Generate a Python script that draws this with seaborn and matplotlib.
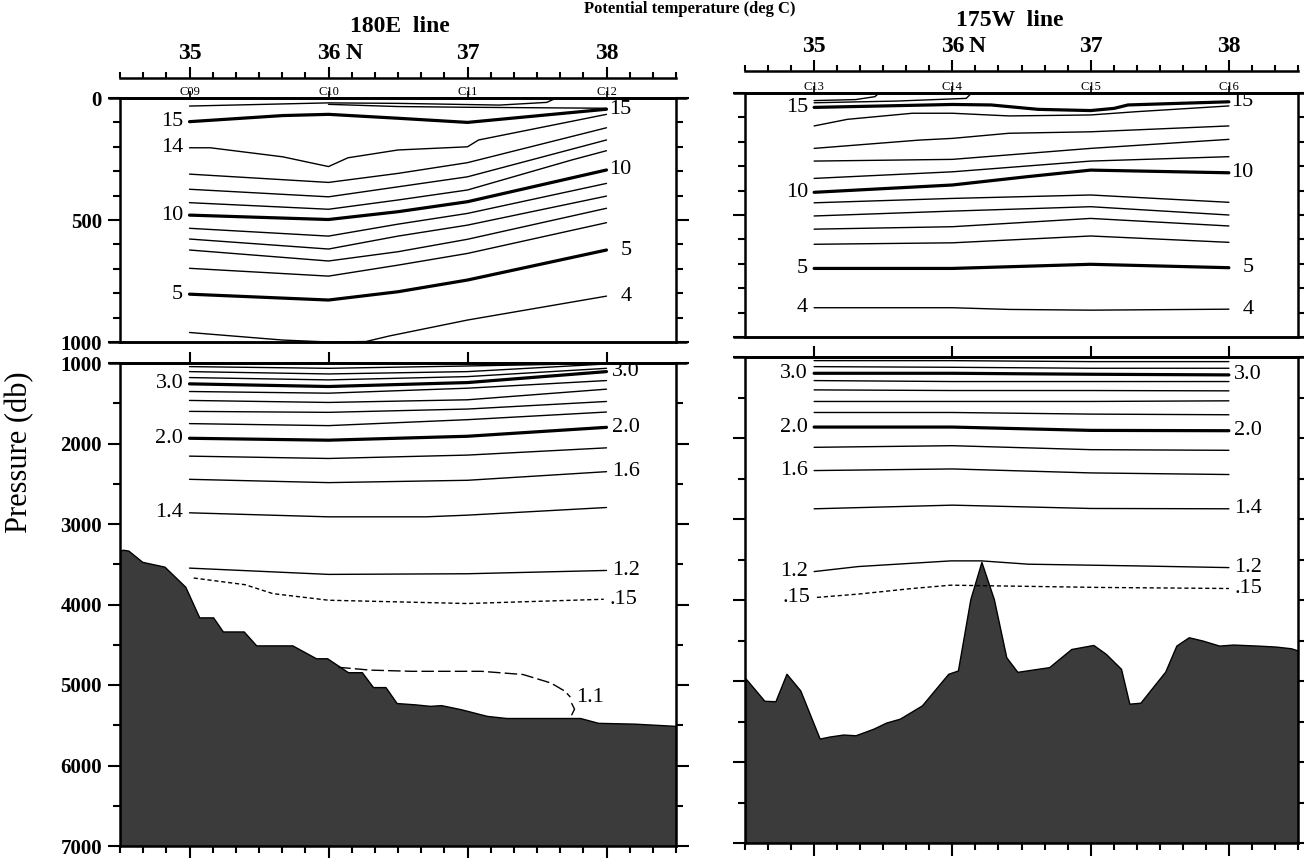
import matplotlib
matplotlib.use("Agg")
import matplotlib.pyplot as plt
import matplotlib.ticker as mticker
import pandas as pd
import seaborn as sns

W, H = 1304, 858

# stations and axis ticks
station_lats = [35.0, 36.0, 37.0, 38.0]
stations_180e = ["C09", "C10", "C11", "C12"]
stations_175w = ["C13", "C14", "C15", "C16"]
lat_ticks = [35, 36, 37, 38]
lat_ticklabels = ["35", "36", "37", "38"]
upper_pticks = [0, 500, 1000]
lower_pticks = [1000, 2000, 3000, 4000, 5000, 6000, 7000]

# isotherms: name -> (latitude, pressure db)
iso_180e_upper = {
    "16": ([35.0, 36.0, 36.5, 37.23, 37.57, 37.64], [33, 20, 22, 29, 18, 0]),
    "16b": ([36.0, 36.5, 37.0, 38.0], [26, 35, 38, 42]),
    "15": ([35.0, 35.67, 36.0, 36.5, 37.0, 38.0], [97, 72, 67, 83, 100, 46]),
    "14": ([35.0, 35.15, 35.67, 36.0, 36.14, 36.5, 37.0, 37.08, 38.0],
           [204, 204, 241, 281, 245, 213, 200, 172, 67]),
    "13": ([35.0, 36.0, 36.5, 37.0, 38.0], [312, 346, 309, 265, 122]),
    "12": ([35.0, 36.0, 36.5, 37.0, 38.0], [374, 405, 364, 323, 172]),
    "11": ([35.0, 36.0, 36.5, 37.0, 37.75, 38.0], [429, 456, 418, 377, 254, 216]),
    "10": ([35.0, 36.0, 36.5, 37.0, 38.0], [480, 498, 466, 425, 295]),
    "9": ([35.0, 36.0, 36.5, 37.0, 38.0], [534, 566, 517, 473, 350]),
    "8": ([35.0, 36.0, 36.5, 37.0, 38.0], [578, 619, 566, 521, 402]),
    "7": ([35.0, 36.0, 36.5, 37.0, 38.0], [623, 668, 630, 579, 452]),
    "6": ([35.0, 36.0, 36.5, 37.0, 38.0], [698, 730, 685, 637, 511]),
    "5": ([35.0, 36.0, 36.5, 37.0, 38.0], [804, 828, 794, 746, 623]),
    "4": ([35.0, 35.67, 36.0, 36.27, 36.44, 37.0, 38.0],
          [961, 992, 1000, 998, 975, 910, 812]),
}
iso_180e_lower = {
    "3.6": ([35.0, 36.0, 37.0, 38.0], [1045, 1066, 1037, 1005]),
    "3.4": ([35.0, 36.0, 37.0, 38.0], [1107, 1136, 1107, 1012]),
    "3.2": ([35.0, 36.0, 37.0, 38.0], [1181, 1210, 1169, 1066]),
    "3.0": ([35.0, 36.0, 37.0, 38.0], [1259, 1292, 1243, 1107]),
    "2.8": ([35.0, 36.0, 37.0, 38.0], [1354, 1375, 1313, 1218]),
    "2.6": ([35.0, 36.0, 37.0, 38.0], [1465, 1490, 1457, 1325]),
    "2.4": ([35.0, 36.0, 37.0, 38.0], [1601, 1613, 1572, 1478]),
    "2.2": ([35.0, 36.0, 37.0, 38.0], [1753, 1778, 1704, 1609]),
    "2.0": ([35.0, 36.0, 37.0, 38.0], [1935, 1959, 1910, 1799]),
    "1.8": ([35.0, 36.0, 37.0, 38.0], [2157, 2186, 2144, 2054]),
    "1.6": ([35.0, 36.0, 37.0, 38.0], [2445, 2486, 2457, 2350]),
    "1.4": ([35.0, 36.0, 36.7, 37.0, 38.0], [2861, 2911, 2911, 2890, 2795]),
    "1.2": ([35.0, 36.0, 37.0, 38.0], [3548, 3626, 3618, 3577]),
    ".15": ([35.03, 35.4, 35.6, 36.0, 37.0, 37.98], [3671, 3754, 3865, 3947, 3988, 3935]),
    "1.1": ([36.07, 36.3, 36.6, 37.1, 37.4, 37.6, 37.7, 37.74],
            [4780, 4815, 4830, 4830, 4870, 4975, 5076, 5150]),
    "1.1b": ([37.75, 37.77, 37.75], [5230, 5300, 5370]),
}
iso_175w_upper = {
    "16": ([35.0, 35.3, 35.44, 35.47], [31, 27, 15, 0]),
    "16b": ([35.0, 35.6, 36.1, 36.14], [40, 33, 22, 0]),
    "15": ([35.0, 36.0, 36.28, 36.62, 37.0, 37.17, 37.27, 38.0],
           [59, 47, 49, 67, 72, 63, 49, 36]),
    "14": ([35.0, 35.24, 35.71, 36.0, 36.41, 37.0, 37.32, 38.0],
           [135, 108, 83, 83, 94, 90, 77, 53]),
    "13": ([35.0, 35.76, 36.0, 36.41, 37.0, 38.0], [227, 193, 186, 165, 159, 135]),
    "12": ([35.0, 36.0, 37.0, 38.0], [279, 272, 227, 190]),
    "11": ([35.0, 36.0, 37.0, 38.0], [350, 323, 279, 261]),
    "10": ([35.0, 36.0, 36.54, 37.0, 38.0], [407, 377, 343, 316, 327]),
    "9": ([35.0, 36.0, 37.0, 38.0], [450, 432, 418, 448]),
    "8": ([35.0, 36.0, 37.0, 38.0], [504, 484, 466, 500]),
    "7": ([35.0, 36.0, 37.0, 38.0], [558, 548, 514, 545]),
    "6": ([35.0, 36.0, 37.0, 38.0], [620, 614, 586, 612]),
    "5": ([35.0, 36.0, 37.0, 38.0], [719, 719, 702, 716]),
    "4": ([35.0, 36.0, 36.41, 37.0, 38.0], [880, 880, 887, 890, 886]),
}
iso_175w_lower = {
    "3.4": ([35.0, 36.0, 37.0, 38.0], [1045, 1045, 1057, 1057]),
    "3.2": ([35.0, 36.0, 37.0, 38.0], [1119, 1127, 1139, 1139]),
    "3.0": ([35.0, 36.0, 37.0, 38.0], [1201, 1201, 1213, 1221]),
    "2.8": ([35.0, 36.0, 37.0, 38.0], [1291, 1303, 1303, 1303]),
    "2.6": ([35.0, 36.0, 37.0, 38.0], [1406, 1414, 1414, 1418]),
    "2.4": ([35.0, 36.0, 37.0, 38.0], [1549, 1549, 1549, 1541]),
    "2.2": ([35.0, 36.0, 37.0, 38.0], [1685, 1685, 1705, 1713]),
    "2.0": ([35.0, 36.0, 37.0, 38.0], [1865, 1865, 1906, 1910]),
    "1.8": ([35.0, 36.0, 37.0, 38.0], [2115, 2095, 2144, 2152]),
    "1.6": ([35.0, 36.0, 37.0, 38.0], [2402, 2382, 2431, 2451]),
    "1.4": ([35.0, 36.0, 37.0, 38.0], [2874, 2829, 2870, 2874]),
    "1.2": ([35.0, 35.32, 35.99, 36.21, 36.55, 37.33, 38.0],
            [3649, 3587, 3517, 3517, 3558, 3579, 3600]),
    ".15": ([35.02, 35.32, 35.71, 35.99, 36.29, 37.07, 38.0],
            [3968, 3927, 3858, 3817, 3825, 3845, 3858]),
}

# labelled isotherms (left end, right end)
labels_180e_upper = (["15", "14", "10", "5"], ["15", "10", "5", "4"])
labels_180e_lower = (["3.0", "2.0", "1.4"], ["3.0", "2.0", "1.6", "1.2", ".15", "1.1"])
labels_175w_upper = (["15", "10", "5", "4"], ["15", "10", "5", "4"])
labels_175w_lower = (["3.0", "2.0", "1.6", "1.2", ".15"], ["3.0", "2.0", "1.4", "1.2", ".15"])

# bottom topography
bottom_180e_lat = [34.50, 34.52, 34.56, 34.66, 34.82, 34.97, 35.07, 35.17, 35.24, 35.39,
                   35.48, 35.74, 35.91, 35.99, 36.14, 36.24, 36.32, 36.41, 36.49, 36.62,
                   36.73, 36.81, 36.95, 37.14, 37.28, 37.81, 37.94, 38.20, 38.50]
bottom_180e_p = [3330, 3320, 3330, 3470, 3530, 3780, 4160, 4160, 4335, 4335,
                 4508, 4508, 4668, 4668, 4841, 4841, 5026, 5026, 5224, 5240,
                 5259, 5250, 5300, 5384, 5410, 5410, 5470, 5480, 5508]
bottom_175w_lat = [34.50, 34.64, 34.72, 34.80, 34.90, 35.04, 35.11, 35.21, 35.30, 35.43,
                   35.52, 35.62, 35.78, 35.97, 36.04, 36.13, 36.21, 36.30, 36.39, 36.47,
                   36.58, 36.70, 36.86, 37.02, 37.11, 37.22, 37.28, 37.36, 37.54, 37.62,
                   37.71, 37.81, 37.93, 38.03, 38.21, 38.34, 38.45, 38.50]
bottom_175w_p = [4960, 5244, 5250, 4911, 5117, 5711, 5686, 5661, 5670, 5588,
                 5514, 5465, 5301, 4911, 4870, 3989, 3530, 3989, 4707, 4887,
                 4859, 4829, 4605, 4555, 4665, 4850, 5280, 5268, 4883, 4563,
                 4460, 4501, 4563, 4550, 4563, 4575, 4596, 4624]

heavy = {"15", "10", "5", "3.0", "2.0"}
dashed = {".15": (0, (3, 2)), "1.1": (0, (9, 3))}

sns.set_theme(style="ticks", rc={"axes.edgecolor": "black", "xtick.color": "black",
                                 "ytick.color": "black", "text.color": "black"})
plt.rcParams["font.family"] = ["Liberation Serif", "DejaVu Serif"]

fig = plt.figure(figsize=(W / 100, H / 100), dpi=100)


def px_box(x0, y0, x1, y1):
    return [x0 / W, 1 - y1 / H, (x1 - x0) / W, (y1 - y0) / H]


def draw_lines(ax, lines):
    for name, (lats, ps) in lines.items():
        df = pd.DataFrame({"lat": lats, "p": ps})
        sns.lineplot(data=df, x="lat", y="p", ax=ax, color="black",
                     lw=2.3 if name in heavy else 1.0,
                     linestyle=dashed.get(name, "-"),
                     estimator=None, sort=False, legend=False, zorder=3)


def label_lines(ax, lines, labels, upper):
    left, right = labels
    for name in left:
        lats, ps = lines[name]
        ax.text(lats[0] - 0.045, ps[0], name, ha="right", va="center", fontsize=16)
    for name in right:
        lats, ps = lines[name]
        if upper:
            ax.text(38.18, ps[-1], name, ha="right", va="center", fontsize=16)
        else:
            ax.text(lats[-1] + 0.04, ps[-1], name, ha="left", va="center", fontsize=16)


def style_axes(ax, upper, show_labels, stations):
    ax.set_xlim(34.5, 38.5)
    ax.set_xlabel("")
    ax.set_ylabel("")
    if upper:
        ax.set_ylim(1000, 0)
        ax.set_yticks(upper_pticks)
        ax.yaxis.set_minor_locator(mticker.MultipleLocator(100))
    else:
        ax.set_ylim(7000, 1000)
        ax.set_yticks(lower_pticks)
        ax.yaxis.set_minor_locator(mticker.MultipleLocator(500))
    ax.tick_params(axis="y", which="both", direction="out", left=True, right=True,
                   labelleft=show_labels, labelright=False, width=1.5, labelsize=15, pad=4)
    ax.tick_params(axis="y", which="major", length=9)
    ax.tick_params(axis="y", which="minor", length=5)
    for t in ax.get_yticklabels():
        t.set_fontweight("bold")
    ax.set_xticks(lat_ticks)
    ax.xaxis.set_minor_locator(mticker.MultipleLocator(1 / 6))
    if upper:
        ax.tick_params(axis="x", which="both", bottom=False, top=False, labelbottom=False)
    else:
        ax.tick_params(axis="x", which="both", direction="out", bottom=True, top=False,
                       labelbottom=False, width=1.5)
        ax.tick_params(axis="x", which="major", length=9)
        ax.tick_params(axis="x", which="minor", length=5)
    for s in ax.spines.values():
        s.set_linewidth(1.8)
        s.set_visible(True)
    sec = ax.secondary_xaxis("top")
    sec.set_xticks(station_lats)
    sec.spines["top"].set_linewidth(1.8)
    if upper:
        sec.set_xticklabels(stations, fontsize=9)
        sec.tick_params(direction="out", length=5, width=1.2, pad=-5)
    else:
        sec.set_xticklabels([])
        sec.tick_params(direction="out", length=8, width=1.5)
    ends = [1, 0] if upper else [1]
    for yv in ends:
        ax.plot([-0.022, 1.02], [yv, yv], transform=ax.transAxes, clip_on=False,
                color="black", lw=1.8, solid_capstyle="butt")


def ruler(box):
    axr = fig.add_axes(box)
    axr.set_xlim(34.5, 38.5)
    axr.set_ylim(0, 1)
    axr.patch.set_visible(False)
    for s in ["left", "right", "bottom"]:
        axr.spines[s].set_visible(False)
    axr.spines["top"].set_linewidth(1.8)
    axr.set_yticks([])
    axr.xaxis.tick_top()
    axr.set_xticks(lat_ticks, lat_ticklabels)
    axr.xaxis.set_minor_locator(mticker.MultipleLocator(1 / 6))
    axr.tick_params(axis="x", which="both", direction="out", width=1.5,
                    labelsize=17, pad=2)
    axr.tick_params(axis="x", which="major", length=8)
    axr.tick_params(axis="x", which="minor", length=4)
    for t in axr.get_xticklabels():
        t.set_fontweight("bold")
    axr.annotate("N", xy=(36.0, 1), xycoords=axr.get_xaxis_transform(),
                 xytext=(12, 10), textcoords="offset points",
                 ha="left", va="bottom", fontsize=17, fontweight="bold")


panels = [
    (px_box(120, 98, 676, 342), iso_180e_upper, labels_180e_upper, True, True, stations_180e, None),
    (px_box(120, 363, 676, 846), iso_180e_lower, labels_180e_lower, False, True, stations_180e,
     (bottom_180e_lat, bottom_180e_p)),
    (px_box(745, 93, 1298, 337), iso_175w_upper, labels_175w_upper, True, False, stations_175w, None),
    (px_box(745, 357, 1298, 843), iso_175w_lower, labels_175w_lower, False, False, stations_175w,
     (bottom_175w_lat, bottom_175w_p)),
]

for box, lines, labels, upper, show_labels, stations, bottom in panels:
    ax = fig.add_axes(box)
    ax.set_facecolor("white")
    if bottom is not None:
        ax.fill_between(bottom[0], bottom[1], 7000, color="#3b3b3b",
                        edgecolor="black", lw=1.0, zorder=2)
    draw_lines(ax, lines)
    label_lines(ax, lines, labels, upper)
    style_axes(ax, upper, show_labels, stations)

ruler(px_box(120, 78, 676, 79))
ruler(px_box(745, 71, 1298, 72))

fig.text(400 / W, 1 - 26 / H, "180E  line", ha="center", va="center",
         fontsize=17, fontweight="bold")
fig.text(1010 / W, 1 - 21 / H, "175W  line", ha="center", va="center",
         fontsize=17, fontweight="bold")
fig.text(690 / W, 1 - 1 / H, "Potential temperature (deg C)", ha="center", va="top",
         fontsize=12, fontweight="bold")
fig.text(20 / W, 1 - 452 / H, "Pressure (db)", ha="center", va="center",
         rotation=90, fontsize=22)

fig.savefig("out.png", dpi=100)
